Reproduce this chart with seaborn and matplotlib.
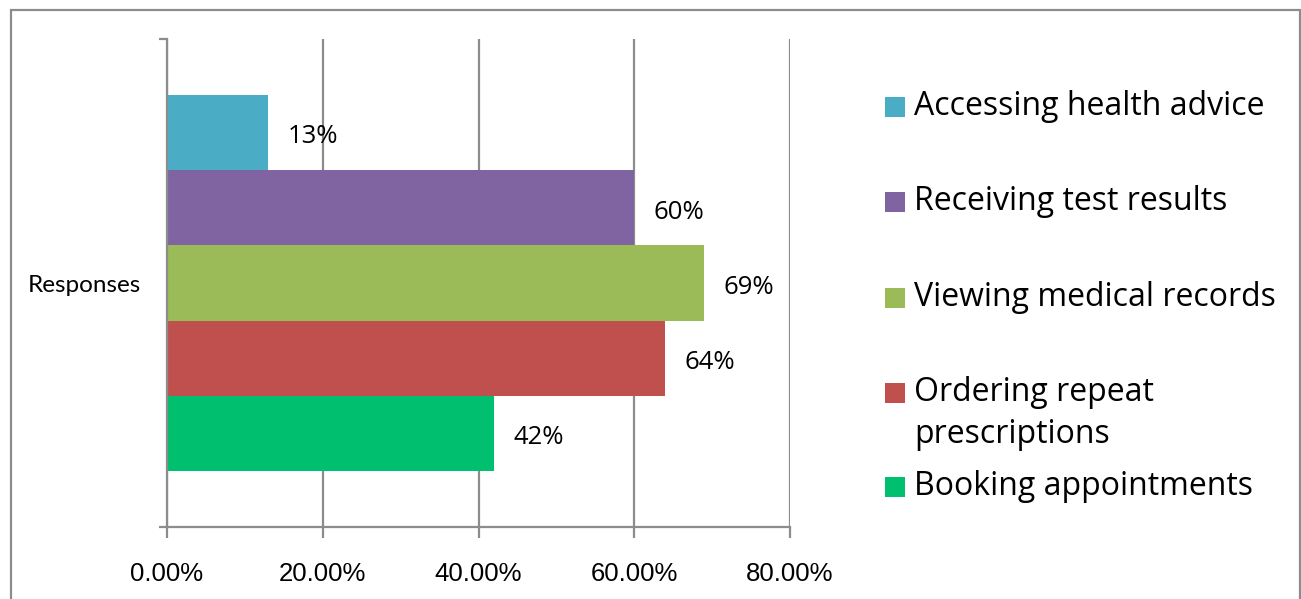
import matplotlib
matplotlib.use("Agg")
import matplotlib.pyplot as plt
from matplotlib.patches import Rectangle
from matplotlib.ticker import FixedLocator, FuncFormatter
import seaborn as sns
import pandas as pd

# Survey: share of respondents using each online service
category = ["Responses"]
services = [
    "Accessing health advice",
    "Receiving test results",
    "Viewing medical records",
    "Ordering repeat prescriptions",
    "Booking appointments",
]
service_labels = [
    "Accessing health advice",
    "Receiving test results",
    "Viewing medical records",
    "Ordering repeat\nprescriptions",
    "Booking appointments",
]
shares = [13, 60, 69, 64, 42]  # percent
colors = ["#4BACC6", "#8064A2", "#9BBB59", "#C0504D", "#00BF6F"]
x_ticks = [0, 20, 40, 60, 80]

df = pd.DataFrame({
    "category": category * len(services),
    "service": services,
    "share": shares,
})

sns.set_theme(style="white")
plt.rcParams["font.family"] = ["Open Sans", "DejaVu Sans"]

W, H, DPI = 1301, 599, 100
fig = plt.figure(figsize=(W / DPI, H / DPI), dpi=DPI)
ax = fig.add_axes([167 / W, 1 - 527 / H, (790 - 167) / W, (527 - 39) / H])

grid_c = "#8C8C8C"

sns.barplot(
    data=df, y="category", x="share", hue="service", hue_order=services,
    palette=colors, orient="h", width=0.77, dodge=True, gap=0,
    saturation=1, ax=ax, legend=False, linewidth=0,
)

ax.set_xlim(0, 80)
ax.set_ylim(0.5, -0.5)
ax.xaxis.set_major_locator(FixedLocator(x_ticks))
ax.xaxis.set_major_formatter(FuncFormatter(lambda v, p: f"{v:.2f}%"))
ax.grid(axis="x", color=grid_c, linewidth=1.6)
ax.grid(axis="y", visible=False)
ax.set_axisbelow(True)

for side in ["top", "right"]:
    ax.spines[side].set_visible(False)
for side in ["left", "bottom"]:
    ax.spines[side].set_color(grid_c)
    ax.spines[side].set_linewidth(1.6)

ax.set_xlabel("")
ax.set_ylabel("")

ax.tick_params(axis="x", which="major", bottom=True, length=8, width=1.6,
               color=grid_c, pad=17, labelsize=18.5, labelcolor="black")
for t in ax.get_xticklabels():
    t.set_family(["Liberation Sans Narrow", "Liberation Sans", "DejaVu Sans"])

ax.set_yticks([0])
ax.set_yticklabels(category)
ax.tick_params(axis="y", which="major", left=False, length=0, pad=19,
               labelsize=17.5, labelcolor="black")
for t in ax.get_yticklabels():
    t.set_family(["Lato", "DejaVu Sans"])
ax.yaxis.set_minor_locator(FixedLocator([-0.5, 0.5]))
ax.tick_params(axis="y", which="minor", left=True, length=6, width=1.6,
               color=grid_c)

# value labels at the end of each bar
for cont, v in zip(ax.containers, shares):
    anns = ax.bar_label(cont, labels=[f"{v}%"], padding=14, fontsize=18.5,
                        color="black", family=["Open Sans", "DejaVu Sans"])
    for a in anns:
        a.xyann = (14, -3)

# legend: colour square plus text per service, listed top to bottom
legend_baselines = [115, 210, 306, 401, 495]  # first-line baselines, px from top
for lab, col, ypx in zip(service_labels, colors, legend_baselines):
    fig.patches.append(Rectangle((885 / W, 1 - (ypx + 2) / H), 20 / W, 20 / H,
                                 transform=fig.transFigure, facecolor=col,
                                 edgecolor="none"))
    lines = lab.split("\n")
    for i, line in enumerate(lines):
        fig.text(914 / W, 1 - (ypx + 42 * i) / H, line, ha="left",
                 va="baseline", fontsize=23, color="black",
                 family=["Open Sans", "DejaVu Sans"])

# chart-area frame
fig.patches.append(Rectangle((11 / W, -0.05), (1300 - 11) / W, 1.05 - 10 / H,
                             transform=fig.transFigure, facecolor="none",
                             edgecolor=grid_c, linewidth=1.6))

fig.savefig("out.png", dpi=DPI)
